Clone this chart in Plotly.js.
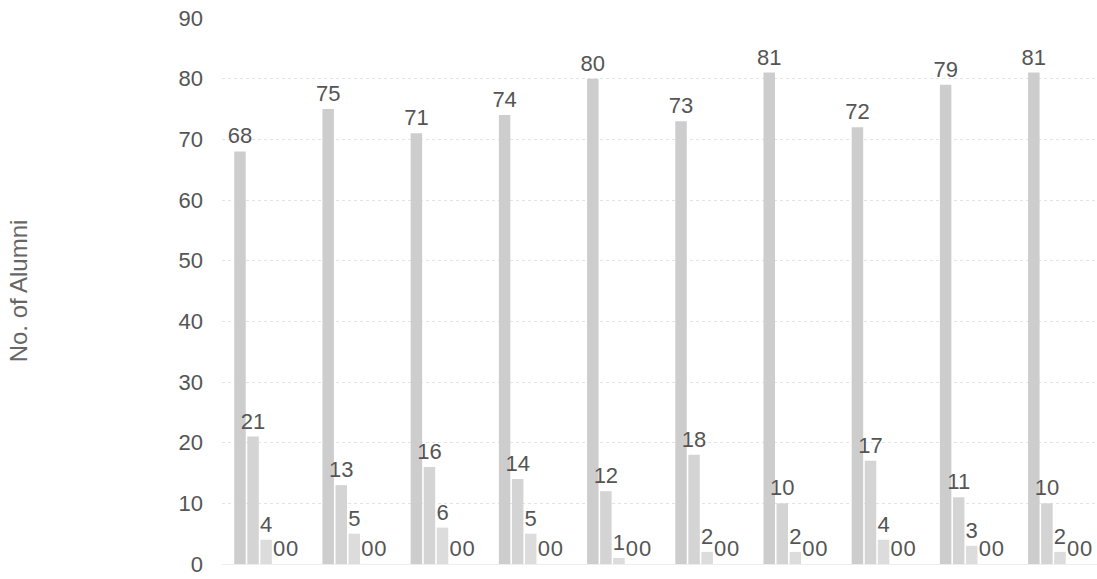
<!DOCTYPE html>
<html>
<head>
<meta charset="utf-8">
<script src="https://cdn.plot.ly/plotly-3.0.1.min.js"></script>
<style>html,body{margin:0;padding:0;background:#fff;}#chart{width:1097px;height:579px;}</style>
</head>
<body>
<div id="chart"></div>
<script>
const groups = ['1','2','3','4','5','6','7','8','9','10'];
const series1 = [68, 75, 71, 74, 80, 73, 81, 72, 79, 81];
const series2 = [21, 13, 16, 14, 12, 18, 10, 17, 11, 10];
const series3 = [4, 5, 6, 5, 1, 2, 2, 4, 3, 2];
const series4 = [0, 0, 0, 0, 0, 0, 0, 0, 0, 0];
const series5 = [0, 0, 0, 0, 0, 0, 0, 0, 0, 0];
const seriesNames = ['Series 1', 'Series 2', 'Series 3', 'Series 4', 'Series 5'];
const colors = ['#cdcdcd', '#d4d4d4', '#dcdcdc', '#e6e6e6', '#e6e6e6'];

const all = [series1, series2, series3, series4, series5];
const traces = all.map((vals, i) => ({
  type: 'bar',
  name: seriesNames[i],
  x: groups,
  y: vals,
  marker: {color: colors[i]},
  text: vals.map(String),
  textposition: 'outside',
  constraintext: 'none',
  cliponaxis: false,
  textfont: {family: 'Liberation Sans, Arial, sans-serif', size: 22, color: '#555'},
  hoverinfo: 'skip'
}));

const layout = {
  width: 1097, height: 579,
  margin: {l: 222, r: 0, t: 18, b: 15},
  paper_bgcolor: '#fff', plot_bgcolor: '#fff',
  barmode: 'group',
  bargap: 0.26,
  bargroupgap: 0.12,
  showlegend: false,
  xaxis: {type: 'category', range: [-0.5, 9.42], showticklabels: false, showgrid: false, zeroline: false, showline: false, ticks: ''},
  yaxis: {
    range: [0, 90], dtick: 10,
    showgrid: true, gridcolor: '#e4e4e4', griddash: 'dot', gridwidth: 1,
    zeroline: true, zerolinecolor: '#eeeeee',
    showline: false,
    ticks: '', ticklabelstandoff: 18,
    tickfont: {family: 'Liberation Sans, Arial, sans-serif', size: 22, color: '#555'},
    title: {text: 'No. of Alumni', standoff: 144, font: {family: 'Liberation Sans, Arial, sans-serif', size: 24, color: '#666'}}
  }
};
Plotly.newPlot('chart', traces, layout, {displayModeBar: false, staticPlot: true});
</script>
</body>
</html>
